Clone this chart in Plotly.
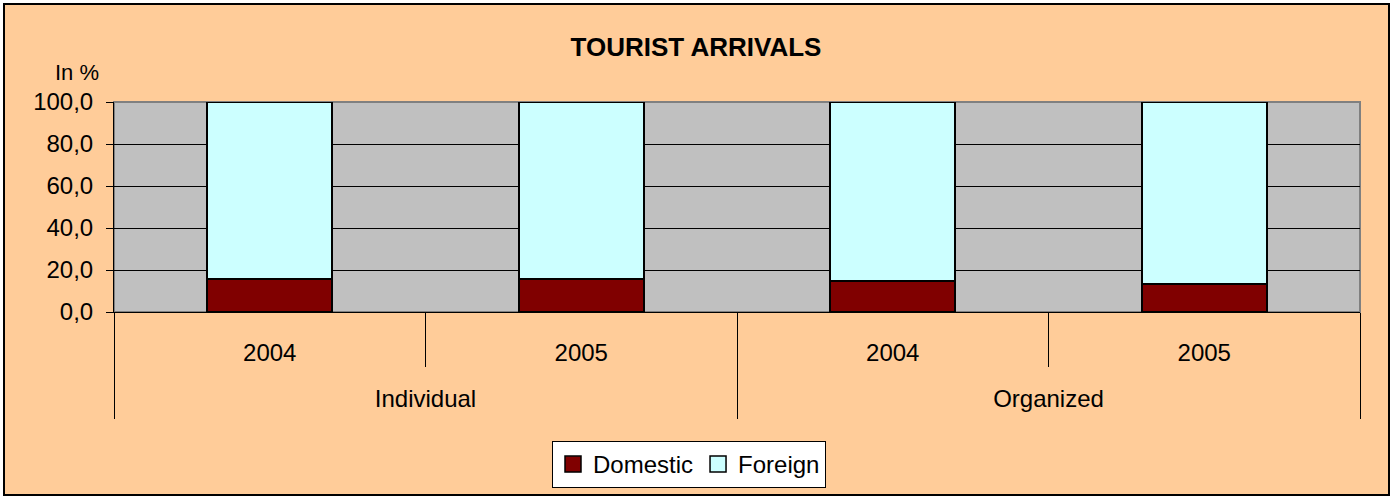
import plotly.graph_objects as go

groups = ["Individual", "Organized"]
years = ["2004", "2005", "2004", "2005"]
domestic = [15.8, 15.7, 14.9, 13.4]
foreign = [round(100 - d, 1) for d in domestic]
series_names = ["Domestic", "Foreign"]
series_colors = ["#800000", "#CCFFFF"]

W, H = 1392, 497
ML, MR, MT, MB = 114, 32, 102, 185
PW, PH = W - ML - MR, H - MT - MB

def px_x(p):
    return (p - ML) / PW

def px_y(p):
    return (H - MB - p) / PH

pos = list(range(len(years)))
per_group = len(years) // len(groups)
group_pos = [g * per_group + (per_group - 1) / 2 for g in range(len(groups))]

fig = go.Figure()
for name, vals, col in zip(series_names, [domestic, foreign], series_colors):
    fig.add_trace(go.Bar(x=pos, y=vals, name=name, width=0.4, showlegend=False,
                         marker=dict(color=col, line=dict(color="black", width=2))))
for name, col in zip(series_names, series_colors):
    fig.add_trace(go.Scatter(x=[None], y=[None], name=name, mode="markers",
                             marker=dict(symbol="square", size=16, color=col,
                                         line=dict(color="black", width=1.5))))

font = "Liberation Sans, Arial, sans-serif"
fig.update_layout(
    barmode="stack",
    width=W, height=H,
    margin=dict(l=ML, r=MR, t=MT, b=MB),
    paper_bgcolor="white",
    plot_bgcolor="#C0C0C0",
    separators=",.",
    font=dict(family=font, size=24, color="black"),
    title=dict(text="<b>TOURIST ARRIVALS</b>", x=0.5, xref="container", xanchor="center",
               y=1 - 47 / H, yref="container", yanchor="middle", font=dict(size=26)),
    legend=dict(orientation="h", xref="container", yref="container", x=689 / W, xanchor="center",
                y=1 - 441 / H, yanchor="top", bgcolor="white", bordercolor="black", borderwidth=1,
                font=dict(size=24), itemwidth=30, traceorder="normal"),
    showlegend=True,
    shapes=[
        dict(type="rect", xref="paper", yref="paper", x0=px_x(4), x1=px_x(1389), y0=px_y(495), y1=px_y(4),
             fillcolor="#FFCC99", line=dict(color="black", width=2), layer="below"),
        dict(type="rect", xref="paper", yref="paper", x0=0, x1=1, y0=0, y1=1,
             fillcolor="#C0C0C0", line=dict(color="#808080", width=2), layer="below"),
    ],
    annotations=[
        dict(text="In %", xref="paper", yref="paper", x=px_x(101), y=px_y(72), xanchor="right",
             yanchor="middle", showarrow=False, font=dict(size=22)),
    ],
    xaxis=dict(range=[-0.5, len(years) - 0.5], tickmode="array", tickvals=pos, ticktext=years,
               ticks="", showline=True, linecolor="black", linewidth=1, showgrid=False, zeroline=False,
               ticklabelstandoff=19,
               minor=dict(tickmode="linear", tick0=-0.5, dtick=1, ticks="outside", ticklen=54,
                          tickcolor="black", tickwidth=1, showgrid=False)),
    xaxis2=dict(overlaying="x", anchor="y", side="bottom", range=[-0.5, len(years) - 0.5],
                tickmode="array", tickvals=group_pos, ticktext=groups, ticks="", showline=False,
                showgrid=False, zeroline=False, ticklabelstandoff=70,
                minor=dict(tickmode="linear", tick0=-0.5, dtick=per_group, ticks="outside", ticklen=106,
                           tickcolor="black", tickwidth=1, showgrid=False)),
)
fig.add_trace(go.Scatter(x=[None], y=[None], xaxis="x2", showlegend=False, hoverinfo="skip"))
fig.update_yaxes(range=[0, 100], dtick=20, tickformat=".1f", ticks="outside", ticklen=7,
                 tickcolor="black", showline=True, linecolor="black", linewidth=1,
                 showgrid=True, gridcolor="black", gridwidth=1, zeroline=False,
                 ticklabelstandoff=8)

fig.write_html("out.html", config={"displayModeBar": False},
               post_script="document.body.style.margin='0px';")
